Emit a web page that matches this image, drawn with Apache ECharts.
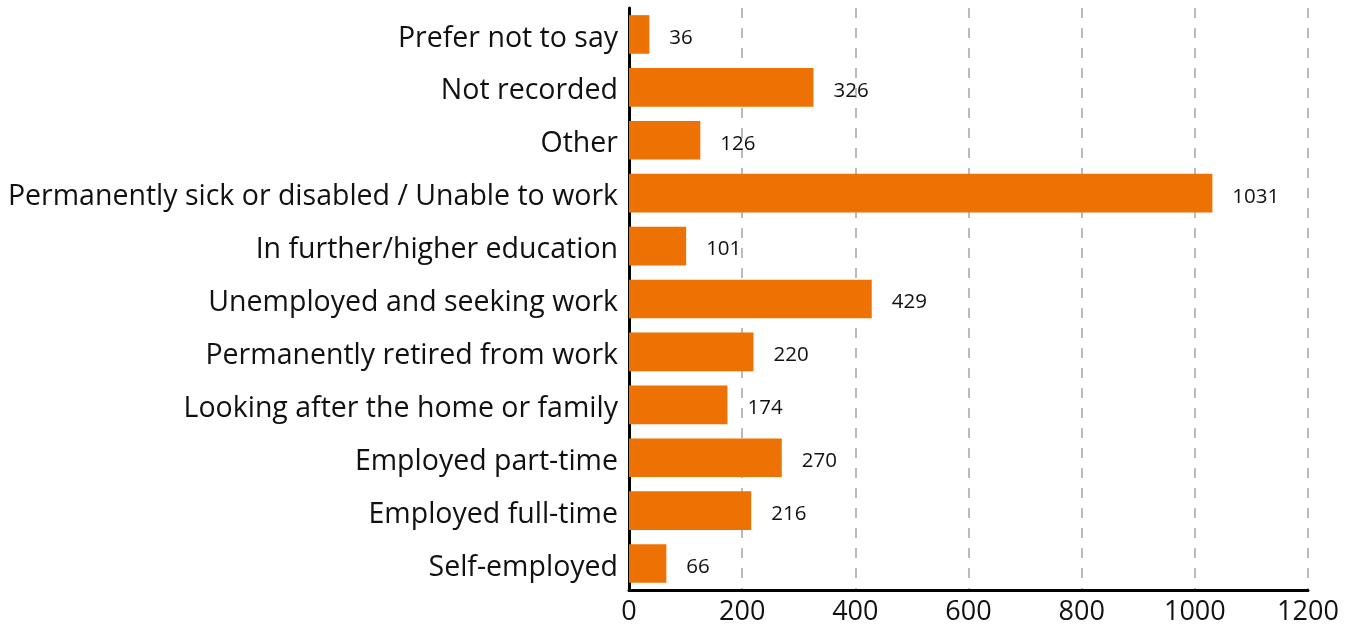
<!DOCTYPE html>
<html><head><meta charset="utf-8">
<script src="https://cdn.jsdelivr.net/npm/echarts@6/dist/echarts.min.js"></script>
<style>html,body{margin:0;padding:0;background:#fff}#c{width:1354px;height:630px}</style>
</head><body><div id="c"></div>
<script>
const categories = ["Self-employed","Employed full-time","Employed part-time","Looking after the home or family","Permanently retired from work","Unemployed and seeking work","In further/higher education","Permanently sick or disabled / Unable to work","Other","Not recorded","Prefer not to say"];
const values = [66,216,270,174,220,429,101,1031,126,326,36];
const xTicks = [0,200,400,600,800,1000,1200];
const font = "'Open Sans', sans-serif";
const chart = echarts.init(document.getElementById('c'));
chart.setOption({
  animation:false,
  grid:{left:629,right:46,top:8,bottom:40,containLabel:false},
  xAxis:{type:'value',min:xTicks[0],max:xTicks[xTicks.length-1],interval:200,
    axisLine:{show:true,lineStyle:{color:'#000',width:3}},
    axisTick:{show:false},
    axisLabel:{color:'#111',fontSize:27,fontFamily:font,margin:9,formatter:v=>String(v)},
    splitLine:{show:true,lineStyle:{color:'#bbb',type:[10,10],width:2}}},
  yAxis:{type:'category',data:categories,
    axisLine:{show:true,lineStyle:{color:'#000',width:3}},
    axisTick:{show:false},
    axisLabel:{color:'#111',fontSize:28.5,fontFamily:font,margin:11,
      formatter:v=>'{a|'+v+'}',
      rich:{a:{color:'#111',fontSize:28.5,fontFamily:font,padding:[8,0,0,0]}}}},
  series:[{type:'bar',data:values,barCategoryGap:'27%',
    itemStyle:{color:'#EE7203'},
    label:{show:true,position:'right',distance:20,color:'#111',fontSize:20.5,fontFamily:font,
      formatter:p=>'{a|'+p.value+'}',
      rich:{a:{color:'#111',fontSize:20.5,fontFamily:font,padding:[7,0,0,0]}}}}]
});
</script></body></html>
